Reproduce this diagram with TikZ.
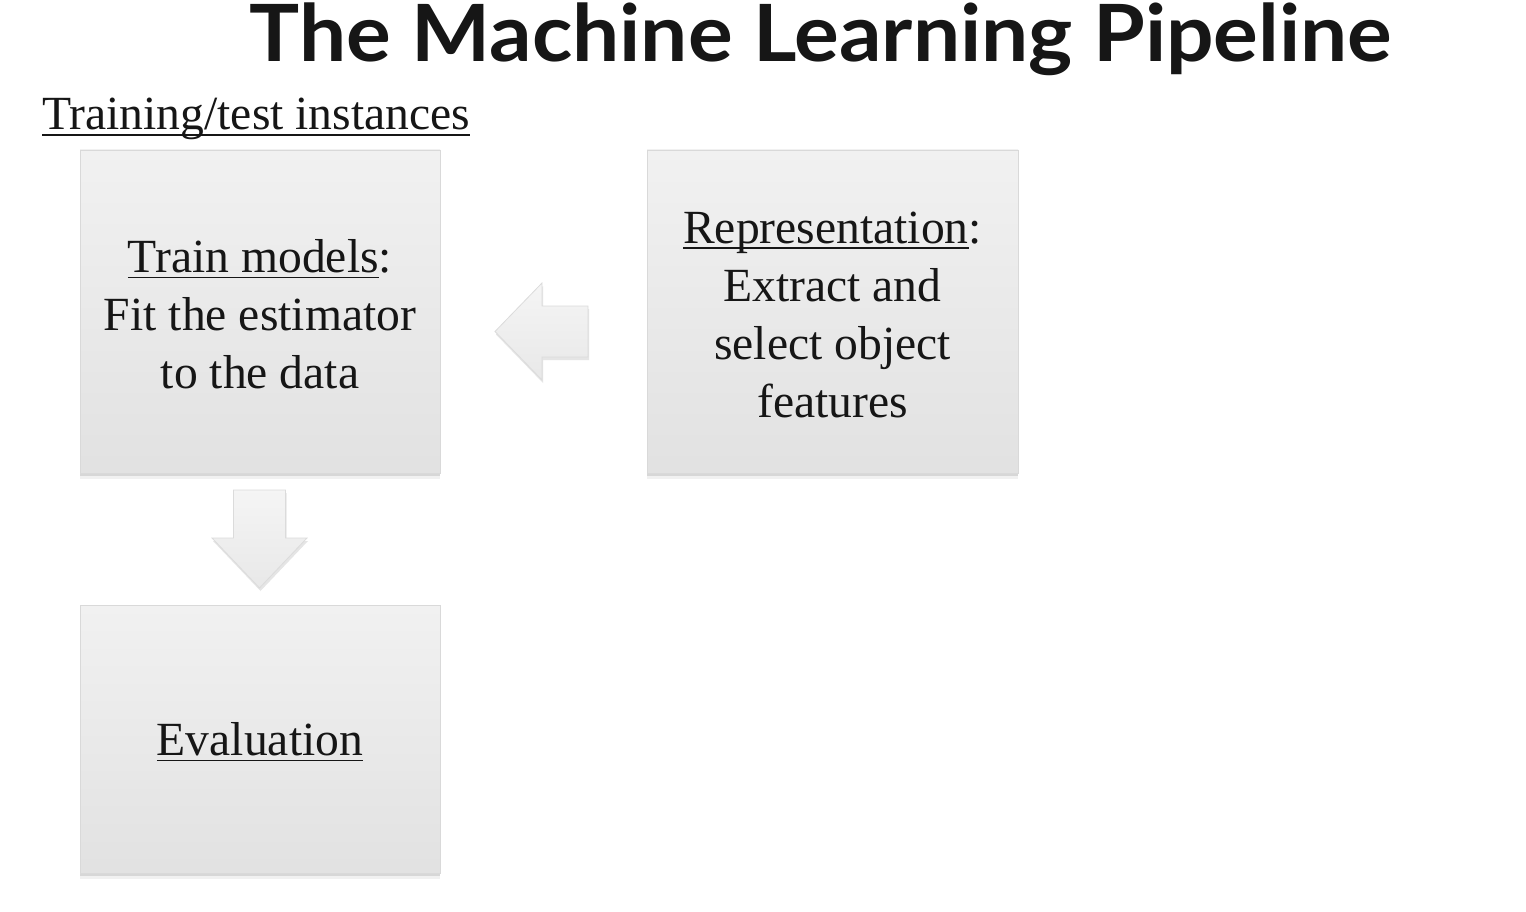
\documentclass[tikz,border=0pt]{standalone}
\usepackage{fontspec}
\setmainfont{Liberation Serif}
\newfontfamily\titlefont{Lato}
\usetikzlibrary{shadows,shapes.geometric}
\newsavebox\myulbox
\newcommand\myul[1]{\sbox\myulbox{#1}\rlap{\rule[-0.12em]{\wd\myulbox}{1.8pt}}\usebox\myulbox}
\definecolor{txt}{HTML}{161616}
\tikzset{
  stagebox/.style={rectangle, draw=gray!30, line width=0.8pt,
    top color=gray!11, bottom color=gray!23,
    drop shadow={shadow xshift=0pt, shadow yshift=-6pt, opacity=0.12, fill=gray!90},
    drop shadow={shadow xshift=0pt, shadow yshift=-3pt, opacity=0.25, fill=gray!90},
    inner sep=0pt},
  boxtext/.style={align=center, text=txt, inner sep=0pt,
    font=\fontsize{47.6}{58}\selectfont},
  blockarrow/.style={draw=gray!28, line width=0.8pt, top color=gray!8, bottom color=gray!18,
    drop shadow={shadow xshift=1pt, shadow yshift=-3pt, opacity=0.25, fill=gray!80}},
}
\begin{document}
\begin{tikzpicture}[x=1pt,y=-1pt]
\useasboundingbox[fill=white] (0,0) rectangle (1526,912);
\node[anchor=base, text=txt, font=\titlefont\bfseries\fontsize{79}{90}\selectfont] (title) at (821,62) {\scalebox{1.06}[1]{The Machine Learning Pipeline}};
\node[anchor=base west, text=txt, inner sep=0pt, font=\fontsize{47.6}{58}\selectfont] (caption) at (42,130) {\myul{Training/test instances}};
\node[stagebox, minimum width=360pt, minimum height=323pt] (train) at (260,311.5) {};
\node[boxtext] (traintext) at ([yshift=-3pt]train.center)
  {\myul{Train models}:\\Fit the estimator\\to the data};
\node[stagebox, minimum width=371pt, minimum height=323pt] (rep) at (832.5,311.5) {};
\node[boxtext] (reptext) at ([yshift=-3.5pt]rep.center)
  {\myul{Representation}:\\Extract and\\select object\\features};
\node[stagebox, minimum width=360pt, minimum height=268pt] (eval) at (260,739) {};
\node[boxtext] (evaltext) at ([yshift=-3pt]eval.center) {\myul{Evaluation}};
\draw[blockarrow] (588,306) -- (542,306) -- (542,283) -- (495,331.5) -- (542,380) -- (542,357) -- (588,357) -- cycle;
\draw[blockarrow] (233.5,490) -- (285.5,490) -- (285.5,538) -- (307,538) -- (259.5,588) -- (212,538) -- (233.5,538) -- cycle;
\end{tikzpicture}
\end{document}
